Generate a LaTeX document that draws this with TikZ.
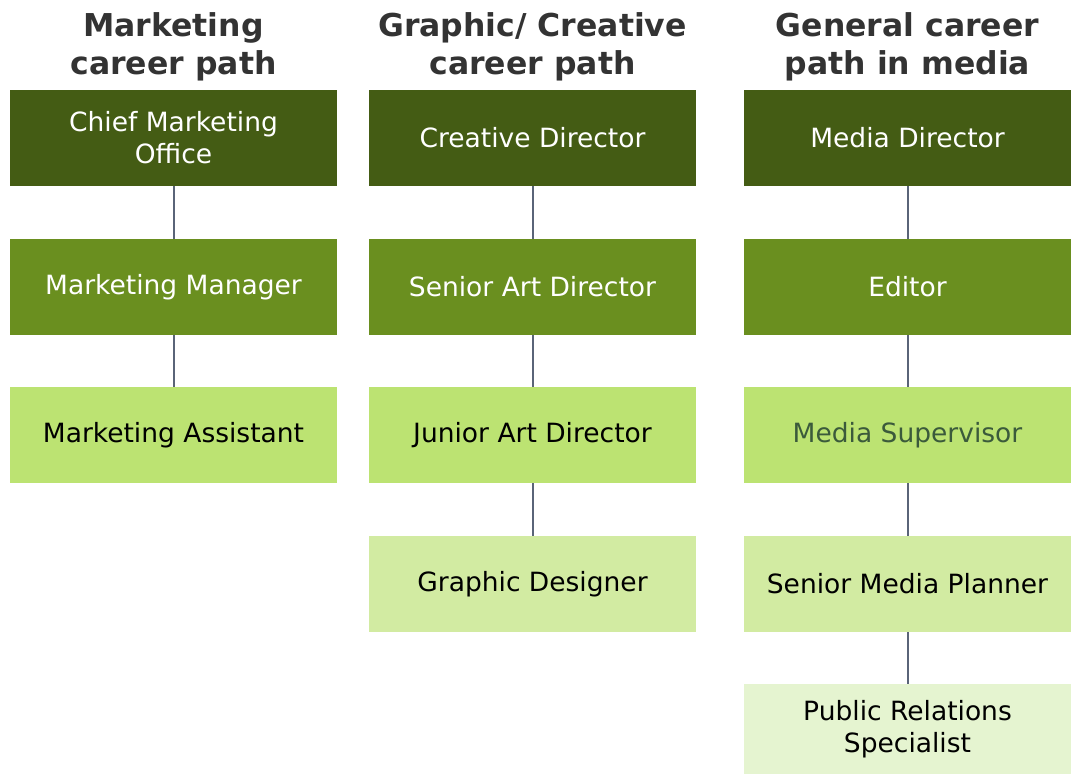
\documentclass[tikz,border=0pt]{standalone}
\usepackage{fontspec}
\setmainfont{DejaVu Sans}
\definecolor{cA}{HTML}{445C14}
\definecolor{cB}{HTML}{6A8F1F}
\definecolor{cC}{HTML}{BCE372}
\definecolor{cD}{HTML}{D2EBA2}
\definecolor{cE}{HTML}{E5F4D0}
\definecolor{hdr}{HTML}{333333}
\definecolor{lnk}{HTML}{5A6478}
\definecolor{msup}{HTML}{3B5A3B}
\begin{document}
\begin{tikzpicture}[x=1pt,y=-1pt,
  box/.style={rectangle, minimum width=327pt, minimum height=96pt, inner sep=0pt, align=center,
    font=\fontsize{26.5}{32}\selectfont},
  lvA/.style={box, fill=cA, text=white},
  lvB/.style={box, fill=cB, text=white},
  lvC/.style={box, fill=cC, text=black},
  lvD/.style={box, fill=cD, text=black},
  lvE/.style={box, fill=cE, text=black},
  head/.style={align=center, text=hdr, font=\fontsize{31.5}{38}\bfseries\selectfont, inner sep=0pt},
  link/.style={draw=lnk, line width=2pt}]
\useasboundingbox (0,0) rectangle (1074,774);
% headers
\node[head] (h1) at (173.5,47) {Marketing\\career path};
\node[head] (h2) at (532.5,47) {Graphic/ Creative\\career path};
\node[head] (h3) at (907.5,47) {General career\\path in media};
% column 1
\node[lvA] (a1) at (173.5,138) {Chief Marketing\\Office};
\node[lvB] (a2) at (173.5,287) {Marketing Manager};
\node[lvC] (a3) at (173.5,435) {Marketing Assistant};
% column 2
\node[lvA] (b1) at (532.5,138) {Creative Director};
\node[lvB] (b2) at (532.5,287) {Senior Art Director};
\node[lvC] (b3) at (532.5,435) {Junior Art Director};
\node[lvD] (b4) at (532.5,584) {Graphic Designer};
% column 3
\node[lvA] (c1) at (907.5,138) {Media Director};
\node[lvB] (c2) at (907.5,287) {Editor};
\node[lvC, text=msup] (c3) at (907.5,435) {Media Supervisor};
\node[lvD] (c4) at (907.5,584) {Senior Media Planner};
\node[lvE, minimum height=90pt] (c5) at (907.5,729) {Public Relations\\Specialist};
% connectors
\draw[link] (a1) -- (a2);
\draw[link] (a2) -- (a3);
\draw[link] (b1) -- (b2);
\draw[link] (b2) -- (b3);
\draw[link] (b3) -- (b4);
\draw[link] (c1) -- (c2);
\draw[link] (c2) -- (c3);
\draw[link] (c3) -- (c4);
\draw[link] (c4) -- (c5);
\end{tikzpicture}
\end{document}
